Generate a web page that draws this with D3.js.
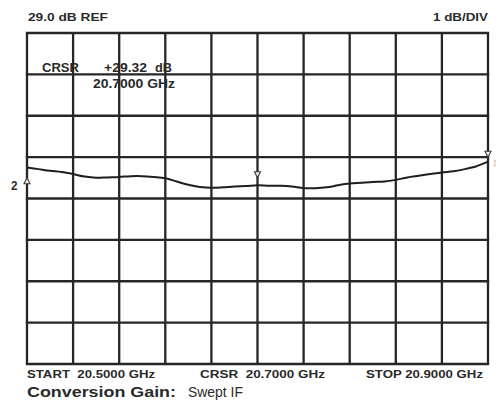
<!DOCTYPE html>
<html>
<head>
<meta charset="utf-8">
<script src="https://cdn.jsdelivr.net/npm/d3@7"></script>
<style>
  html, body { margin: 0; padding: 0; background: #fff; }
  svg { display: block; }
  text { font-family: "Liberation Sans", Arial, sans-serif; fill: #2a2a2a; }
</style>
</head>
<body>
<svg id="chart" width="498" height="402"></svg>
<script>
// Swept-IF conversion gain trace, 20.5–20.9 GHz, 1 dB/div
const startGHz = 20.5;
const stopGHz = 20.9;
const cursorGHz = 20.7;
const refDb = 29.0;
const dbPerDiv = 1;
const xDivisions = 10;
const yDivisions = 8;
const refDivisionsFromTop = 4;
const refMarkerDb = 29.5;

// trace samples every 10 MHz
const freqGHz = d3.range(41).map(i => +(startGHz + i * 0.01).toFixed(2));
const gainDb = [
  29.75, 29.71, 29.67, 29.64, 29.59, 29.53, 29.50, 29.51, 29.52, 29.54,
  29.54, 29.52, 29.49, 29.41, 29.33, 29.28, 29.26, 29.27, 29.29, 29.30,
  29.32, 29.31, 29.31, 29.29, 29.25, 29.25, 29.27, 29.32, 29.36, 29.38,
  29.40, 29.41, 29.45, 29.51, 29.55, 29.59, 29.63, 29.66, 29.71, 29.78,
  29.89
];

const headerLeft = "29.0 dB REF";
const headerRight = "1 dB/DIV";
const cursorLabel = "CRSR";
const cursorValue = "+29.32";
const cursorUnit = "dB";
const cursorFreq = "20.7000 GHz";
const footerLabels = ["START  20.5000 GHz", "CRSR  20.7000 GHz", "STOP 20.9000 GHz"];
const titleBold = "Conversion Gain:";
const titleRegular = "Swept IF";
const traceId = "2";

const svg = d3.select("#chart");
const plot = { left: 27, right: 488, top: 33, bottom: 364 };

const topDb = refDb + refDivisionsFromTop * dbPerDiv;
const x = d3.scaleLinear().domain([startGHz, stopGHz]).range([plot.left, plot.right]);
const y = d3.scaleLinear()
  .domain([topDb - yDivisions * dbPerDiv, topDb])
  .range([plot.bottom, plot.top]);

const ink = "#262626";

// graticule
const xGrid = d3.range(xDivisions + 1).map(i => startGHz + i * (stopGHz - startGHz) / xDivisions);
const yGrid = d3.range(yDivisions + 1).map(i => topDb - i * dbPerDiv);

const grid = svg.append("g");
grid.selectAll("line.v").data(xGrid).join("line")
  .attr("x1", d => x(d)).attr("x2", d => x(d))
  .attr("y1", y.range()[1]).attr("y2", y.range()[0])
  .attr("stroke", ink).attr("stroke-width", 2.3);
grid.selectAll("line.h").data(yGrid).join("line")
  .attr("y1", d => y(d)).attr("y2", d => y(d))
  .attr("x1", x.range()[0] - 1.15).attr("x2", x.range()[1] + 1.15)
  .attr("stroke", ink).attr("stroke-width", 2.3);

// trace
const line = d3.line()
  .x((d, i) => x(freqGHz[i]))
  .y(d => y(d))
  .curve(d3.curveCatmullRom.alpha(0.5));

svg.append("path")
  .datum(gainDb)
  .attr("d", line)
  .attr("fill", "none")
  .attr("stroke", "#1e1e1e")
  .attr("stroke-width", 2)
  .attr("stroke-linejoin", "round");

// markers
function triangle(cx, tipY, dir, w, h) {
  // dir = 1: tip points down, dir = -1: tip points up
  const baseY = tipY - dir * h;
  return `M${cx},${tipY}L${cx - w / 2},${baseY}L${cx + w / 2},${baseY}Z`;
}
const markers = svg.append("g")
  .attr("fill", "#f4f4f4").attr("stroke", "#3a3a3a").attr("stroke-width", 1.1);

// reference position (points up)
markers.append("path").attr("d", triangle(x(startGHz), y(refMarkerDb), -1, 6, 6));
// cursor marker
const cursorIdx = freqGHz.indexOf(cursorGHz);
markers.append("path").attr("d", triangle(x(cursorGHz), y(gainDb[cursorIdx]) - 7.5, 1, 6, 6));
// end-of-trace marker
const lastIdx = gainDb.length - 1;
markers.append("path").attr("d", triangle(x(freqGHz[lastIdx]), y(gainDb[lastIdx]) - 4.5, 1, 6, 6));

// text helpers
function label(txt, tx, ty, size, width, opts = {}) {
  const t = svg.append("text")
    .attr("x", tx).attr("y", ty)
    .attr("font-size", size)
    .attr("font-weight", opts.weight || "bold")
    .attr("text-anchor", opts.anchor || "start")
    .attr("xml:space", "preserve")
    .text(txt);
  if (width) t.attr("textLength", width).attr("lengthAdjust", "spacingAndGlyphs");
  if (opts.fill) t.style("fill", opts.fill);
  return t;
}

// header
label(headerLeft, plot.left + 1, 21, 11.8, 80);
label(headerRight, plot.right, 21, 11.8, 55, { anchor: "end" });

// cursor readout inside graticule
label(cursorLabel, 42, 72, 12, 37);
label(cursorValue, 104, 72, 12, 43);
label(cursorUnit, 155, 72, 12, 17);
label(cursorFreq, 93, 88, 12, 82);

// trace id at reference marker, and the narrow id beside the trace end
label(traceId, 11, 190, 12, 6.5);
label(traceId, 493.5, 166, 9, 2.5, { fill: "#d6b27a" });

// footer
label(footerLabels[0], plot.left, 378, 10.3, 128);
label(footerLabels[1], 200, 378, 10.3, 125);
label(footerLabels[2], 366, 378, 10.3, 117);

label(titleBold, plot.left, 397, 15.5, 149);
label(titleRegular, 188, 397, 15.5, 55, { weight: "normal" });
</script>
</body>
</html>
